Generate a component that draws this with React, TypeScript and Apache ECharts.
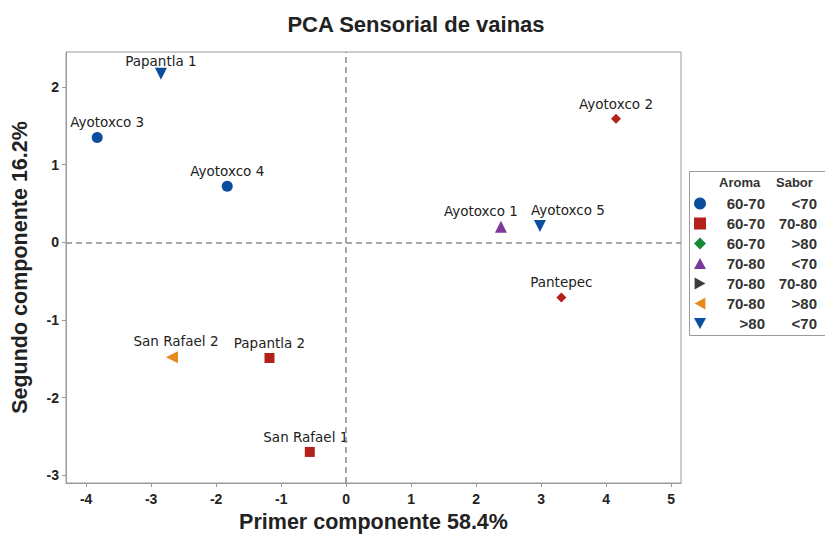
import React, { useEffect, useRef } from "react";
import * as echarts from "echarts";

const sampleNames = ["Papantla 1", "Ayotoxco 3", "Ayotoxco 4", "Ayotoxco 1", "Ayotoxco 5", "Ayotoxco 2", "Pantepec", "San Rafael 2", "Papantla 2", "San Rafael 1"];
const pc1 = [-2.85, -3.83, -1.83, 2.38, 2.98, 4.15, 3.31, -2.68, -1.18, -0.56];
const pc2 = [2.17, 1.35, 0.72, 0.2, 0.21, 1.59, -0.71, -1.48, -1.49, -2.7];
const sampleGroup = [6, 0, 0, 3, 6, 1, 1, 5, 1, 1];
const sampleSymbol = ["", "", "", "", "", "diamond", "diamond", "", "", ""];
const labelShiftX = [0, 10, 0, -20, 28, 0, 0, 4, 0, -4];
const labelShiftY = [3, 0, 0, 0, 0, 0, 0, 0, 0, 0];

const groupAroma = ["60-70", "60-70", "60-70", "70-80", "70-80", "70-80", ">80"];
const groupSabor = ["<70", "70-80", ">80", "<70", "70-80", ">80", "<70"];
const groupColor = ["#0b4d9e", "#b3221a", "#17893a", "#7b3a9a", "#3b3b3b", "#e8871c", "#0b4d9e"];
const groupSymbol = [
  "circle",
  "rect",
  "diamond",
  "path://M5,0L10,9L0,9Z",
  "path://M0,0L9,5L0,10Z",
  "path://M9,0L9,10L0,5Z",
  "path://M0,0L10,0L5,9Z",
];
const groupSize = [11, 10, 12, 12, 12, 12, 12];

const xRange = { min: -4.31, max: 5.15 };
const yRange = { min: -3.1, max: 2.45 };
const xTickValues = [-4, -3, -2, -1, 0, 1, 2, 3, 4, 5];
const yTickValues = [-3, -2, -1, 0, 1, 2];

export default function App() {
  const ref = useRef<HTMLDivElement>(null);
  useEffect(() => {
    if (!ref.current) return;
    const chart = echarts.init(ref.current, undefined, { renderer: "svg" });
    const series: any[] = groupAroma.map((_, g) => {
      const data: any[] = [];
      sampleNames.forEach((n, i) => {
        if (sampleGroup[i] === g) {
          const item: any = { name: n, value: [pc1[i], pc2[i]], label: { offset: [labelShiftX[i], labelShiftY[i]] } };
          if (sampleSymbol[i]) {
            item.symbol = sampleSymbol[i];
            item.symbolSize = 10;
          }
          data.push(item);
        }
      });
      return {
        name: "g" + g,
        type: "scatter",
        symbol: groupSymbol[g],
        symbolSize: groupSize[g],
        itemStyle: { color: groupColor[g], opacity: 1 },
        data,
        label: {
          show: true,
          position: "top",
          distance: 3,
          formatter: (p: any) => p.name,
          color: "#222",
          fontFamily: "DejaVu Sans",
          fontSize: 13.5,
        },
        emphasis: { disabled: true },
      };
    });
    series.push({
      name: "ref",
      type: "scatter",
      data: [],
      silent: true,
      markLine: {
        silent: true,
        symbol: "none",
        label: { show: false },
        lineStyle: { color: "#8a8a8a", type: [6, 4], width: 1.5 },
        data: [{ xAxis: 0 }, { yAxis: 0 }],
      },
    });
    const labelStyle = {
      color: "#222",
      fontWeight: "bold",
      fontSize: 14,
      fontFamily: "Liberation Sans",
    };
    const nameStyle = { color: "#222", fontWeight: "bold", fontSize: 21.5, fontFamily: "Liberation Sans" };
    chart.setOption({
      animation: false,
      backgroundColor: "#ffffff",
      title: {
        text: "PCA Sensorial de vainas",
        left: 411,
        textAlign: "center",
        top: 8,
        textStyle: { color: "#222", fontWeight: "bold", fontSize: 22, fontFamily: "Liberation Sans" },
      },
      grid: {
        left: 66,
        right: 144,
        top: 52,
        bottom: 51,
        show: true,
        borderColor: "#9a9a9a",
        borderWidth: 1,
        outerBoundsMode: "none",
        containLabel: false,
      },
      xAxis: {
        type: "value",
        min: xRange.min,
        max: xRange.max,
        splitLine: { show: false },
        axisLine: { show: true, onZero: false, lineStyle: { color: "#9a9a9a", width: 1 } },
        axisTick: { show: true, length: 4, customValues: xTickValues, lineStyle: { color: "#9a9a9a" } },
        axisLabel: { ...labelStyle, margin: 9, customValues: xTickValues },
        name: "Primer componente 58.4%",
        nameLocation: "middle",
        nameGap: 27,
        nameTextStyle: nameStyle,
      },
      yAxis: {
        type: "value",
        min: yRange.min,
        max: yRange.max,
        splitLine: { show: false },
        axisLine: { show: true, onZero: false, lineStyle: { color: "#9a9a9a", width: 1 } },
        axisTick: { show: true, length: 4, customValues: yTickValues, lineStyle: { color: "#9a9a9a" } },
        axisLabel: { ...labelStyle, margin: 7, customValues: yTickValues },
        name: "Segundo componente 16.2%",
        nameLocation: "middle",
        nameGap: 35,
        nameTextStyle: nameStyle,
      },
      legend: {
        show: true,
        orient: "vertical",
        left: 689,
        top: 191,
        itemWidth: 12,
        itemHeight: 12,
        itemGap: 5,
        selectedMode: false,
        data: groupAroma.map((_, g) => ({ name: "g" + g, icon: groupSymbol[g] })),
        formatter: (name: string) => {
          const g = Number(name.slice(1));
          return `{a|${groupAroma[g]}}{b|${groupSabor[g]}}`;
        },
        textStyle: {
          rich: {
            a: { width: 54, align: "right", fontSize: 15, fontWeight: "bold", color: "#333", fontFamily: "Liberation Sans", lineHeight: 15 },
            b: { width: 52, align: "right", fontSize: 15, fontWeight: "bold", color: "#333", fontFamily: "Liberation Sans", lineHeight: 15 },
          },
        },
      },
      graphic: [
        { type: "rect", left: 687, top: 169, shape: { width: 150, height: 164 }, style: { fill: "none", stroke: "#9a9a9a", lineWidth: 1 }, z: 0 },
        { type: "text", left: 719, top: 176, style: { text: "Aroma", fontSize: 13, fontWeight: "bold", fill: "#333", fontFamily: "Liberation Sans" } },
        { type: "text", left: 776, top: 176, style: { text: "Sabor", fontSize: 13, fontWeight: "bold", fill: "#333", fontFamily: "Liberation Sans" } },
      ],
      series,
    });
    return () => chart.dispose();
  }, []);
  return <div ref={ref} style={{ width: 825, height: 534, position: "absolute", left: 0, top: 0 }} />;
}
